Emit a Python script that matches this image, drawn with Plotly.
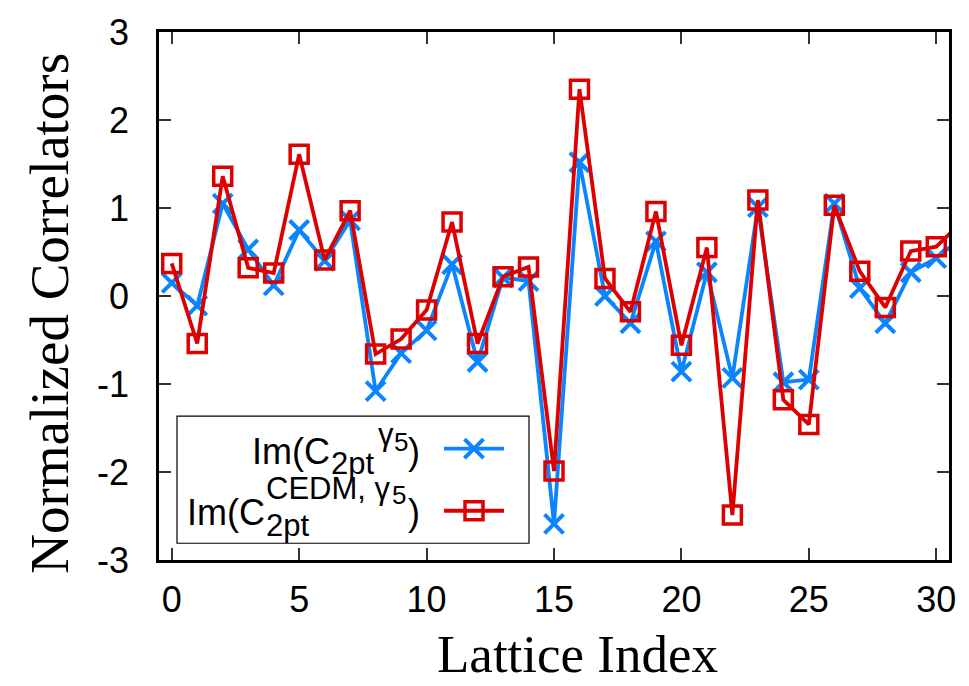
import plotly.graph_objects as go

# ---- data ----
lattice_index = list(range(32))
im_c2pt_g5 = [0.15, -0.11, 1.05, 0.53, 0.12, 0.75, 0.40, 0.86, -1.08, -0.65,
              -0.39, 0.36, -0.75, 0.21, 0.17, -2.59, 1.52, 0.00, -0.31, 0.62,
              -0.86, 0.27, -0.93, 1.01, -0.98, -0.95, 1.05, 0.09, -0.31, 0.27,
              0.43, 0.66]
im_c2pt_cedm_g5 = [0.37, -0.54, 1.36, 0.32, 0.26, 1.61, 0.41, 0.97, -0.66, -0.49,
                   -0.16, 0.84, -0.54, 0.22, 0.33, -1.99, 2.35, 0.20, -0.18, 0.96,
                   -0.56, 0.55, -2.49, 1.09, -1.18, -1.46, 1.03, 0.28, -0.13, 0.51,
                   0.56, 0.84]
x_ticks = [0, 5, 10, 15, 20, 25, 30]
y_ticks = [-3, -2, -1, 0, 1, 2, 3]
y_tick_labels = ["-3", "-2", "-1", "0", "1", "2", "3"]

BLUE = "#0a84ff"
RED = "#dd0000"
W, H = 969, 686
ML, MR, MT, MB = 159, 20, 24, 126
PW, PH = W - ML - MR, H - MT - MB


def px_x(px):
    return (px - ML) / PW


def px_y(py):
    return (H - MB - py) / PH


fig = go.Figure()
fig.add_trace(go.Scatter(
    x=lattice_index, y=im_c2pt_g5, mode="lines+markers",
    line=dict(color=BLUE, width=3.8),
    marker=dict(symbol="x-thin", size=19, line=dict(color=BLUE, width=4)),
    showlegend=False, cliponaxis=True))
fig.add_trace(go.Scatter(
    x=lattice_index, y=im_c2pt_cedm_g5, mode="lines+markers",
    line=dict(color=RED, width=3.8),
    marker=dict(symbol="square-open", size=18, color=RED, line=dict(color=RED, width=3.5)),
    showlegend=False, cliponaxis=True))

# ---- custom legend (text left, sample right, like gnuplot) ----
ly1, ly2 = px_y(447), px_y(510)
lx0, lx1, lxm = px_x(444), px_x(504), px_x(474)
for yy, col, sym, sz, lw in [(ly1, BLUE, "x-thin", 19, 4), (ly2, RED, "square-open", 18, 3.5)]:
    fig.add_trace(go.Scatter(x=[lx0, lx1], y=[yy, yy], mode="lines", xaxis="x2", yaxis="y2",
                             line=dict(color=col, width=3.8), showlegend=False, hoverinfo="skip"))
    fig.add_trace(go.Scatter(x=[lxm], y=[yy], mode="markers", xaxis="x2", yaxis="y2",
                             marker=dict(symbol=sym, size=sz, color=col, line=dict(color=col, width=lw)),
                             showlegend=False, hoverinfo="skip"))

fig.add_shape(type="rect", xref="paper", yref="paper",
              x0=px_x(177), x1=px_x(529), y0=px_y(543), y1=px_y(414),
              line=dict(color="black", width=1.2), fillcolor="rgba(0,0,0,0)")

SANS = "Liberation Sans, Arial, sans-serif"
SERIF = "Liberation Serif, Times New Roman, serif"


def txt(s, px, py, size, anchor="left"):
    fig.add_annotation(text=s, x=px_x(px), y=px_y(py), xref="paper", yref="paper",
                       xanchor=anchor, yanchor="middle", showarrow=False, borderpad=0,
                       font=dict(family=SANS, size=size, color="black"))


MAIN, SMALL, TINY = 36, 31, 26
# entry 1: Im(C_2pt^{γ5})
txt("Im(C", 331, 450, MAIN, "right")
txt("2pt", 330, 462, SMALL)
txt("γ", 377, 433, SMALL)
txt("5", 393, 440, TINY)
txt(")", 407, 450, MAIN)
# entry 2: Im(C^{CEDM, γ5}_{2pt}) (stacked)
txt("Im(C", 266, 512, MAIN, "right")
txt("CEDM, γ", 265, 487, SMALL)
txt("5", 391, 494, TINY)
txt("2pt", 265, 525, SMALL)
txt(")", 407, 512, MAIN)

# axis titles
fig.add_annotation(text="Normalized Correlators", x=px_x(50), y=px_y(310), xref="paper", yref="paper",
                   textangle=-90, showarrow=False, xanchor="center", yanchor="middle",
                   font=dict(family=SERIF, size=55, color="black"))
fig.add_annotation(text="Lattice Index", x=px_x(577), y=px_y(655), xref="paper", yref="paper",
                   showarrow=False, xanchor="center", yanchor="middle", borderpad=0,
                   font=dict(family=SERIF, size=53, color="black"))

axis_common = dict(showgrid=False, zeroline=False, showline=True, linecolor="black", linewidth=2.5,
                   mirror="ticks", ticks="inside", ticklen=12, tickwidth=1.5, tickcolor="#333",
                   tickfont=dict(family=SANS, size=36, color="black"))
fig.update_layout(
    width=W, height=H, margin=dict(l=ML, r=MR, t=MT, b=MB),
    paper_bgcolor="white", plot_bgcolor="white", showlegend=False,
    xaxis=dict(range=[-0.5, 30.5], tickvals=x_ticks, ticklabelstandoff=6, **axis_common),
    yaxis=dict(range=[-3, 3], tickvals=y_ticks, ticktext=y_tick_labels, ticklabelstandoff=20, **axis_common),
    xaxis2=dict(overlaying="x", range=[0, 1], visible=False, anchor="y2"),
    yaxis2=dict(overlaying="y", range=[0, 1], visible=False, anchor="x2"),
)

fig.write_html("out.html")
